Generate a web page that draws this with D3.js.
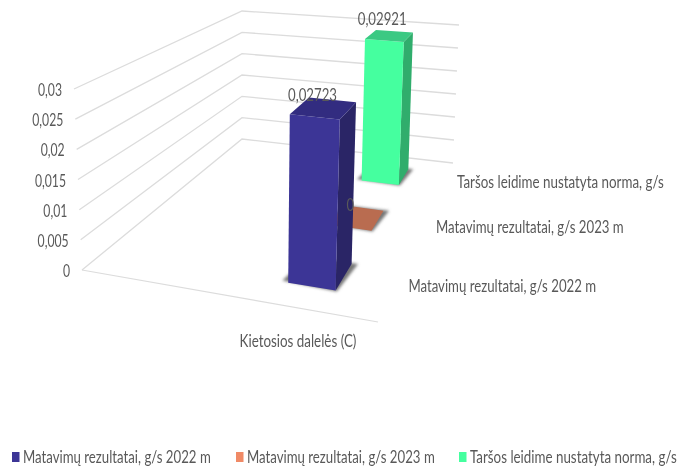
<!DOCTYPE html>
<html>
<head>
<meta charset="utf-8">
<script src="https://cdn.jsdelivr.net/npm/d3@7"></script>
<style>
  html, body { margin: 0; padding: 0; background: #fff; }
  svg { filter: blur(0.35px); display: block; }
  text { font-family: Lato, "Open Sans", sans-serif; fill: #595959; }
</style>
</head>
<body>
<svg id="chart" width="682" height="470"></svg>
<script>
// data
const categories = ["Kietosios dalelės (C)"];
const seriesNames = [
  "Matavimų rezultatai, g/s 2022 m",
  "Matavimų rezultatai, g/s 2023 m",
  "Taršos leidime nustatyta norma, g/s"
];
const seriesValues = [0.02723, 0, 0.02921];
const dataLabels = ["0,02723", "0", "0,02921"];
const tickValues = [0, 0.005, 0.01, 0.015, 0.02, 0.025, 0.03];

const seriesColors = ["#3c3596", "#f08a66", "#45ff9f"];
const sideColors = ["#2a2566", "#a85f45", "#30ad6c"];
const topColors = ["#322c80", "#b96c50", "#3bc983"];

const svg = d3.select("#chart");
const comma = d3.formatLocale({ decimal: ",", thousands: ".", grouping: [3], currency: ["", ""] });
const tickFormat = v => comma.format("~r")(v);

// 3D box of the chart: u goes along the front edge, w goes to the back
function homography(a, b, c, d) {
  // maps unit square to quad a(0,0) b(1,0) c(1,1) d(0,1)
  const sx = a[0] - b[0] + c[0] - d[0], sy = a[1] - b[1] + c[1] - d[1];
  const dx1 = b[0] - c[0], dx2 = d[0] - c[0], dy1 = b[1] - c[1], dy2 = d[1] - c[1];
  const den = dx1 * dy2 - dx2 * dy1;
  const g = (sx * dy2 - dx2 * sy) / den, h = (dx1 * sy - sx * dy1) / den;
  const m = [b[0] - a[0] + g * b[0], d[0] - a[0] + h * d[0], a[0],
             b[1] - a[1] + g * b[1], d[1] - a[1] + h * d[1], a[1]];
  return (u, w) => {
    const k = g * u + h * w + 1;
    return [(m[0] * u + m[1] * w + m[2]) / k, (m[3] * u + m[4] * w + m[5]) / k];
  };
}
const floor = homography([82, 270], [378, 322], [453, 163], [242, 139]);
const ceil = homography([74, 89], [386, 122], [459, 25], [242, 11]);
const yScale = d3.scaleLinear().domain([0, 0.03]).range([0, 1]);
const project = (u, w, v) => {
  const t = yScale(v), f = floor(u, w), c = ceil(u, w);
  return [f[0] + (c[0] - f[0]) * t, f[1] + (c[1] - f[1]) * t];
};

const uScale = d3.scaleBand().domain(categories).range([0.672, 0.83]);
const wScale = d3.scaleBand().domain(seriesNames).range([0, 1]).paddingInner(0.59).paddingOuter(0.3);

const line = d3.line();
const poly = pts => line(pts) + "Z";

// the original picture is a stretched bitmap, so text gets squeezed sideways.
// x,y is the anchor point, width is the wanted width or a fraction of the natural one
function squeeze(sel, x, y, width) {
  sel.each(function(d, i) {
    const natural = this.getComputedTextLength();
    const w = typeof width === "function" ? width(d, i) : width;
    const k = w <= 1 ? w : w / natural;
    d3.select(this).attr("transform", `translate(${x(d, i)},${y(d, i)}) scale(${k},1)`);
  });
}

// blur for the floor shadows
const defs = svg.append("defs");
defs.append("filter").attr("id", "soft").attr("x", "-30%").attr("y", "-30%").attr("width", "160%").attr("height", "160%")
  .append("feGaussianBlur").attr("stdDeviation", 1.5);

// gridlines on the two walls
svg.append("g").selectAll("path").data(tickValues).join("path")
  .attr("d", v => line([project(0, 0, v), project(0, 1, v), project(1, 1, v)]))
  .attr("fill", "none").attr("stroke", "#dcdcdc").attr("stroke-width", 1.3);
svg.append("path").attr("d", line([floor(0, 0), floor(1, 0)]))
  .attr("fill", "none").attr("stroke", "#dcdcdc").attr("stroke-width", 1.2);

// value axis labels
svg.append("g").selectAll("text").data(tickValues).join("text")
  .attr("text-anchor", "end").attr("font-size", 16.5)
  .text(tickFormat)
  .call(squeeze, v => project(0, 0, v)[0] - 12, v => project(0, 0, v)[1] + 7, 0.74);

// bars, back to front
const u0 = uScale(categories[0]), u1 = u0 + uScale.bandwidth();
const order = d3.range(seriesNames.length).reverse();
order.forEach(i => {
  const w0 = wScale(seriesNames[i]), w1 = w0 + wScale.bandwidth(), v = seriesValues[i];
  const g = svg.append("g");
  // shadow
  g.append("path")
    .attr("d", poly([project(u0 - 0.022, w0 + 0.005, 0), project(u1 + 0.005, w0 - 0.003, 0), project(u1 + 0.02, w1 + 0.005, 0), project(u0, w1, 0)]))
    .attr("fill", "#777").attr("filter", "url(#soft)");
  if (v > 0) {
    g.append("path")
      .attr("d", poly([project(u1, w0, 0), project(u1, w1, 0), project(u1, w1, v), project(u1, w0, v)]))
      .attr("fill", sideColors[i]);
    g.append("path")
      .attr("d", poly([project(u0, w0, 0), project(u1, w0, 0), project(u1, w0, v), project(u0, w0, v)]))
      .attr("fill", seriesColors[i]);
  }
  g.append("path")
    .attr("d", poly([project(u0, w0, v), project(u1, w0, v), project(u1, w1, v), project(u0, w1, v)]))
    .attr("fill", topColors[i]);
});

// data labels sit above the front edge of each bar, on top of everything
const frontTop = (d, i) => project((u0 + u1) / 2, wScale(d), seriesValues[i]);
svg.append("g").selectAll("text").data(seriesNames).join("text")
  .attr("text-anchor", "middle").attr("font-size", 16.5)
  .text((d, i) => dataLabels[i])
  .call(squeeze,
    (d, i) => frontTop(d, i)[0] + (seriesValues[i] > 0 ? -2 : 0),
    (d, i) => frontTop(d, i)[1] + (seriesValues[i] > 0 ? -16 : -17),
    0.8);

// category and depth axis labels
svg.append("text")
  .attr("text-anchor", "middle").attr("font-size", 16.5)
  .text(categories[0])
  .call(squeeze, () => 298, () => 347, 117);
const depthPos = d => floor(1, wScale(d) + wScale.bandwidth() / 2);
svg.append("g").selectAll("text").data(seriesNames).join("text")
  .attr("font-size", 16.5)
  .text(d => d)
  .call(squeeze, d => depthPos(d)[0] + 13, d => depthPos(d)[1] + 6.5, (d, i) => i === 2 ? 207 : 188);

// legend
const legendX = [12, 236, 459];
const legend = svg.append("g").selectAll("g").data(seriesNames).join("g")
  .attr("transform", (d, i) => `translate(${legendX[i]},452)`);
legend.append("rect").attr("width", 7.5).attr("height", 10).attr("fill", (d, i) => seriesColors[i]);
legend.append("text").attr("font-size", 16.5)
  .text(d => d)
  .call(squeeze, () => 11, () => 10.5, (d, i) => i === 2 ? 207 : 188);
</script>
</body>
</html>
